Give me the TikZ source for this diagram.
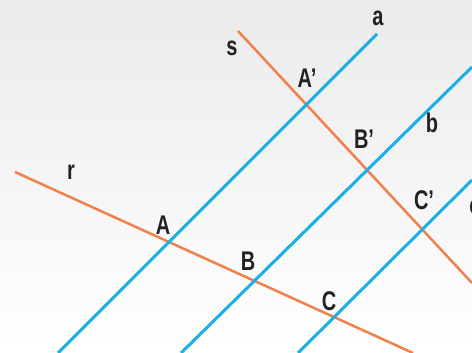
\documentclass[tikz,border=0pt]{standalone}
\usepackage{fontspec}
\newfontfamily\lblfont{Liberation Sans}[FakeStretch=0.74]
\usepackage{xcolor}
\definecolor{parblue}{HTML}{1AAFE6}
\definecolor{transorange}{HTML}{F0814A}
\definecolor{lblgray}{HTML}{222222}
\usepackage{tikz}

\begin{document}
\begin{tikzpicture}[
    x=0.5pt, y=-0.5pt,
    parallel/.style={parblue, line width=1.5pt},
    transversal/.style={transorange, line width=1.25pt},
    lbl/.style={text=lblgray, inner sep=0pt, font=\lblfont\bfseries\fontsize{13.5}{15}\selectfont}
]
% background
\shade[top color=black!8, middle color=black!2, bottom color=white] (0,0) rectangle (472,353);
\useasboundingbox (0,0) rectangle (472,353);

% end points of the lines
\coordinate (a1) at (377,34);  \coordinate (a2) at (58,353);
\coordinate (b1) at (472,67);  \coordinate (b2) at (181,353);
\coordinate (c1) at (472,180); \coordinate (c2) at (298,353);
\coordinate (r1) at (15,172);  \coordinate (r2) at (413,353);
\coordinate (s1) at (238,31);  \coordinate (s2) at (472,283);

\draw[transversal] (r1) -- (r2);
\draw[transversal] (s1) -- (s2);
\draw[parallel] (a1) -- (a2);
\draw[parallel] (b1) -- (b2);
\draw[parallel] (c1) -- (c2);

\node[lbl] at (378,18) (la) {a};
\node[lbl] at (432,123) (lb) {b};
\node[lbl] at (475,207) (lc) {c};
\node[lbl] at (71,172) (lr) {r};
\node[lbl] at (232,48) (ls) {s};

\node[lbl] at (163,225) (lA) {A};
\node[lbl] at (248,261) (lB) {B};
\node[lbl] at (329,301) (lC) {C};
\node[lbl] at (307,78) (lAp) {A’};
\node[lbl] at (364,139) (lBp) {B’};
\node[lbl] at (424,200) (lCp) {C’};
\end{tikzpicture}
\end{document}
